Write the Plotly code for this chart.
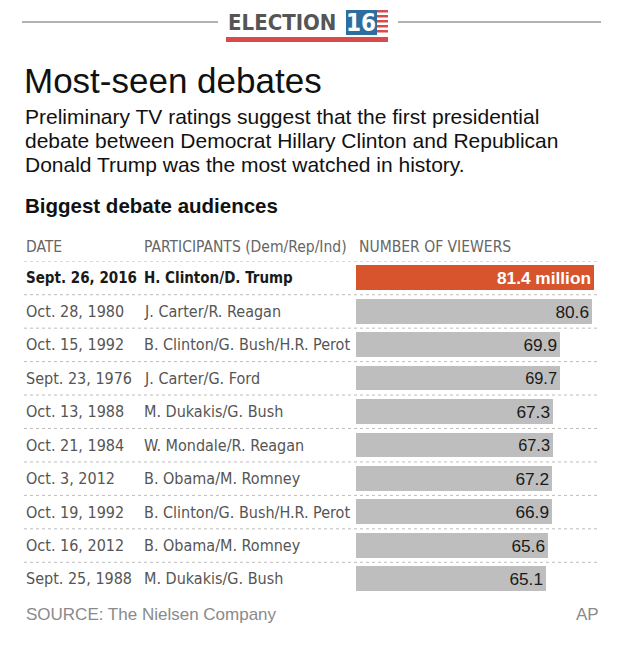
import plotly.graph_objects as go

# data
dates = ["Sept. 26, 2016", "Oct. 28, 1980", "Oct. 15, 1992", "Sept. 23, 1976", "Oct. 13, 1988",
         "Oct. 21, 1984", "Oct. 3, 2012", "Oct. 19, 1992", "Oct. 16, 2012", "Sept. 25, 1988"]
participants = ["H. Clinton/D. Trump", "J. Carter/R. Reagan", "B. Clinton/G. Bush/H.R. Perot",
                "J. Carter/G. Ford", "M. Dukakis/G. Bush", "W. Mondale/R. Reagan", "B. Obama/M. Romney",
                "B. Clinton/G. Bush/H.R. Perot", "B. Obama/M. Romney", "M. Dukakis/G. Bush"]
viewers = [81.4, 80.6, 69.9, 69.7, 67.3, 67.3, 67.2, 66.9, 65.6, 65.1]

W, H = 632, 650
NARROW = "DejaVu Sans Condensed, Liberation Sans Narrow, Arial Narrow, sans-serif"
SANS = "Liberation Sans, Arial, Helvetica, sans-serif"


def px(x):
    return x / W


def py(y):
    return 1 - y / H


def note(x, y, txt, size, color, family=SANS, anchor="left"):
    return dict(x=px(x), y=py(y), xref="paper", yref="paper", xanchor=anchor, yanchor="middle",
                text=txt, showarrow=False, font=dict(family=family, size=size, color=color))


rows = list(range(len(viewers)))
bar_colors = ["#D8542D"] + ["#BEBEBE"] * (len(viewers) - 1)
labels = [f"<b>{viewers[0]} million</b>"] + [f"{v}" for v in viewers[1:]]
label_colors = ["white"] + ["#1a1a1a"] * (len(viewers) - 1)

fig = go.Figure(go.Bar(
    x=viewers, y=rows, orientation="h", width=0.74,
    marker=dict(color=bar_colors, line=dict(width=0)),
    text=labels, textposition="inside", insidetextanchor="end", textangle=0,
    textfont=dict(family=SANS, size=20, color=label_colors),
    hoverinfo="skip",
))

ann = []
for i in rows:
    bold = i == 0
    col = "#1a1a1a" if bold else "#555555"
    size = 15 if bold else 16
    for xpos, txt in ((24, dates[i]), (142, participants[i])):
        ann.append(dict(x=px(xpos), xref="paper", y=i, yref="y", xanchor="left", yanchor="middle",
                        text=f"<b>{txt}</b>" if bold else txt, showarrow=False,
                        font=dict(family=NARROW, size=size, color=col)))

# column headers
for xpos, txt in ((24, "DATE"), (142, "PARTICIPANTS (Dem/Rep/Ind)"), (357, "NUMBER OF VIEWERS")):
    ann.append(note(xpos, 247, txt, 15.5, "#666666", NARROW))

# titles
ann.append(note(22, 80, "Most-seen debates", 35, "#111111"))
subtitle = ["Preliminary TV ratings suggest that the first presidential",
            "debate between Democrat Hillary Clinton and Republican",
            "Donald Trump was the most watched in history."]
for yy, line in zip((117, 141, 164), subtitle):
    ann.append(note(23, yy, line, 21, "#111111"))
ann.append(note(23, 205, "<b>Biggest debate audiences</b>", 20.5, "#111111"))

# footer
ann.append(note(24, 614, "SOURCE: The Nielsen Company", 17, "#8a8a8a"))
ann.append(note(601, 614, "AP", 17, "#8a8a8a", anchor="right"))

# logo
ann.append(note(226, 23, "<b>ELECTION</b>", 22, "#555555", NARROW))
ann.append(note(361, 23, "<b>16</b>", 24, "white", NARROW, anchor="center"))

shapes = []
for x0, x1 in ((22, 218), (398, 601)):
    shapes.append(dict(type="line", xref="paper", yref="paper", x0=px(x0), x1=px(x1), y0=py(22), y1=py(22),
                       line=dict(color="#9a9a9a", width=1.5)))
shapes.append(dict(type="rect", xref="paper", yref="paper", x0=px(346), x1=px(377), y0=py(35), y1=py(10),
                   fillcolor="#2E6E9E", line=dict(width=0), layer="below"))
for k in range(5):
    y0 = 10 + k * 5
    shapes.append(dict(type="rect", xref="paper", yref="paper", x0=px(377), x1=px(388),
                       y0=py(y0 + 2.5), y1=py(y0), fillcolor="#D94A4A", line=dict(width=0), layer="below"))
shapes.append(dict(type="rect", xref="paper", yref="paper", x0=px(226), x1=px(388), y0=py(42), y1=py(37),
                   fillcolor="#D94A4A", line=dict(width=0)))

# dotted row separators
for i in rows:
    shapes.append(dict(type="line", xref="paper", yref="y", x0=px(24), x1=px(600), y0=i - 0.5, y1=i - 0.5,
                       line=dict(color="#bdbdbd", width=1, dash="dot"), layer="below"))
# bottom rule
shapes.append(dict(type="line", xref="paper", yref="y", x0=px(24), x1=px(598), y0=9.6, y1=9.6,
                   line=dict(color="#999999", width=2)))

row_h = (579 - 278) / 9
fig.update_layout(
    width=W, height=H, margin=dict(l=0, r=0, t=0, b=0),
    paper_bgcolor="white", plot_bgcolor="rgba(0,0,0,0)", showlegend=False,
    xaxis=dict(domain=[px(356), px(600)], range=[0, 83.45], visible=False, fixedrange=True),
    yaxis=dict(domain=[py(579 + row_h / 2), py(278 - row_h / 2)], range=[9.5, -0.5], visible=False,
               fixedrange=True),
    annotations=ann, shapes=shapes, bargap=0,
)
fig.update_traces(cliponaxis=False)

fig.write_html("out.html", config={"displayModeBar": False},
               post_script="document.body.style.margin='0px';")
